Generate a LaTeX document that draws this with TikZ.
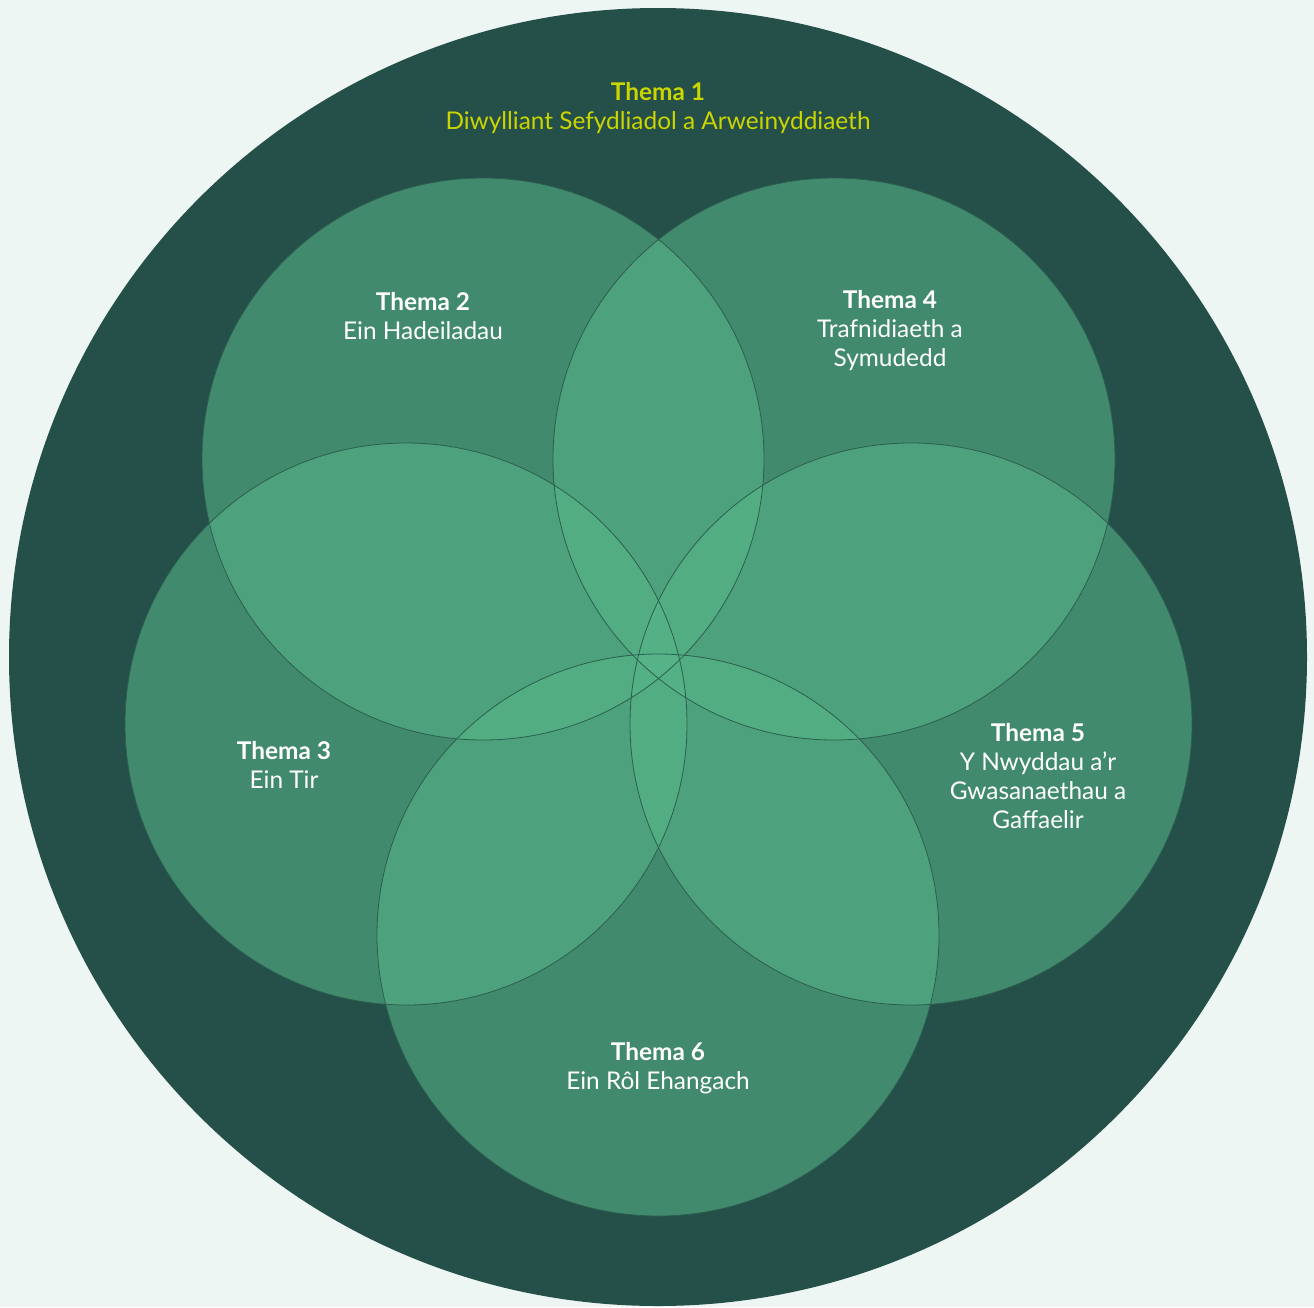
\documentclass[tikz,border=0pt]{standalone}
\usepackage{fontspec}
\setmainfont{Lato}
\usepackage{tikz}

\definecolor{mintbg}{RGB}{238,246,243}
\definecolor{deepteal}{RGB}{37,79,73}
\definecolor{leafgreen}{RGB}{86,181,137}
\definecolor{ringline}{RGB}{44,94,78}
\definecolor{limetext}{RGB}{203,213,0}

\tikzset{
  themecircle/.style={fill=leafgreen, fill opacity=0.58},
  themering/.style={draw=ringline, line width=0.6pt},
  themelabel/.style={text=white, align=center, font=\fontsize{18.3}{21.75}\selectfont},
  toplabel/.style={themelabel, text=limetext}
}

\begin{document}
\begin{tikzpicture}[x=0.75pt,y=-0.75pt]
  \useasboundingbox (0,0) rectangle (1314,1307);
  \fill[mintbg] (0,0) rectangle (1314,1307);
  % outer theme
  \fill[deepteal] (658,657) circle (649);
  % theme circles
  \coordinate (t2) at (483,459);
  \coordinate (t4) at (834,459);
  \coordinate (t3) at (406,724);
  \coordinate (t5) at (911,724);
  \coordinate (t6) at (658,935);
  \fill[themecircle] (t2) circle (281);
  \fill[themecircle] (t4) circle (281);
  \fill[themecircle] (t3) circle (281);
  \fill[themecircle] (t5) circle (281);
  \fill[themecircle] (t6) circle (281);
  \draw[themering] (t2) circle (281);
  \draw[themering] (t4) circle (281);
  \draw[themering] (t3) circle (281);
  \draw[themering] (t5) circle (281);
  \draw[themering] (t6) circle (281);
  % labels
  \node[toplabel] (thema1) at (658,108) {\textbf{Thema 1}\\Diwylliant Sefydliadol a Arweinyddiaeth};
  \node[themelabel] (thema2) at (423,316) {\textbf{Thema 2}\\Ein Hadeiladau};
  \node[themelabel] (thema4) at (890,331) {\textbf{Thema 4}\\Trafnidiaeth a\\Symudedd};
  \node[themelabel] (thema3) at (284,765) {\textbf{Thema 3}\\Ein Tir};
  \node[themelabel] (thema5) at (1038,776) {\textbf{Thema 5}\\Y Nwyddau a’r\\Gwasanaethau a\\Gaffaelir};
  \node[themelabel] (thema6) at (658,1068) {\textbf{Thema 6}\\Ein Rôl Ehangach};
\end{tikzpicture}
\end{document}
